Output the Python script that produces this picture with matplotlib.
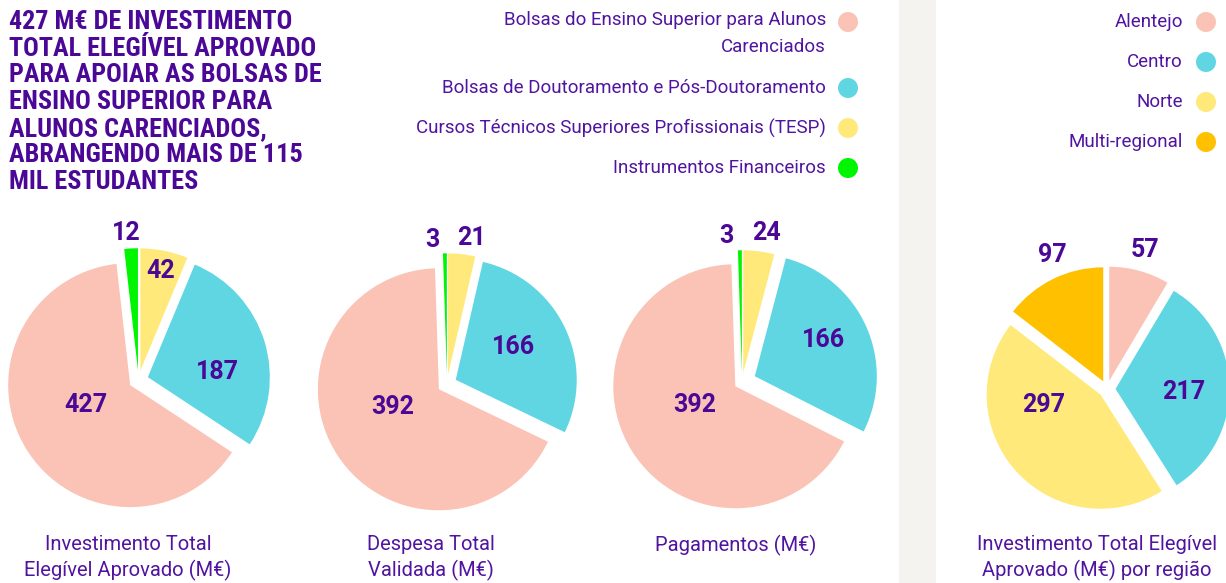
import numpy as np
import matplotlib.pyplot as plt
from matplotlib.patches import Circle

W, H = 1226, 583

# dados
categorias = ['Bolsas do Ensino Superior para Alunos\nCarenciados',
              'Bolsas de Doutoramento e Pós-Doutoramento',
              'Cursos Técnicos Superiores Profissionais (TESP)',
              'Instrumentos Financeiros']
investimento = [427, 187, 42, 12]
despesa = [392, 166, 21, 3]
pagamentos = [392, 166, 24, 3]

regioes = ['Alentejo', 'Centro', 'Norte', 'Multi-regional']
invest_regiao = [57, 217, 297, 97]

legendas = ['Investimento Total\nElegível Aprovado (M€)',
            'Despesa Total\nValidada (M€)',
            'Pagamentos (M€)',
            'Investimento Total Elegível\nAprovado (M€) por região']

titulo = ('427 M€ DE INVESTIMENTO\nTOTAL ELEGÍVEL APROVADO\nPARA APOIAR AS BOLSAS DE\n'
          'ENSINO SUPERIOR PARA\nALUNOS CARENCIADOS,\nABRANGENDO MAIS DE 115\nMIL ESTUDANTES')

cores_cat = ['#FAC3B6', '#60D6E3', '#FFE97A', '#00F500']
cores_reg = ['#FAC3B6', '#60D6E3', '#FFE97A', '#FFC000']
roxo = '#4B0896'
roxo2 = '#5014A0'

bold_font = ['Roboto Condensed', 'Roboto']
num_font = ['Roboto', 'DejaVu Sans']
txt_font = ['Roboto', 'DejaVu Sans']

# layout (pixels, y from top)
pies = [
    dict(vals=investimento, cores=cores_cat, order=[2, 1, 0, 3], c=(138.5, 380), R=122,
         expl=[0.08, 0.08, 0.08, 0.08], r=[0.48, 0.65, 0.91, 1.21], nudge=[6, 11, 0, -1.5],
         cap_x=128),
    dict(vals=despesa, cores=cores_cat, order=[2, 1, 0, 3], c=(447, 384), R=121,
         expl=[0.08, 0.08, 0.08, 0.08], r=[0.49, 0.63, 1.22, 1.2], nudge=[10, -3, 3, -5],
         cap_x=431),
    dict(vals=pagamentos, cores=cores_cat, order=[2, 1, 0, 3], c=(742, 382), R=122,
         expl=[0.065, 0.115, 0.08, 0.08], r=[0.43, 0.75, 1.24, 1.2], nudge=[6, -3, 2, -5],
         cap_x=736),
    dict(vals=invest_regiao, cores=cores_reg, order=[0, 1, 2, 3], c=(1107, 389), R=114,
         expl=[0.075, 0.075, 0.075, 0.075], r=[1.26, 0.67, 0.57, 1.27], nudge=[0, 3, 28, 4],
         cap_x=1097),
]

fig = plt.figure(figsize=(W / 100, H / 100), dpi=100)
ax = fig.add_axes([0, 0, 1, 1])
ax.axvspan(899, 936, color='#F4F3EF', zorder=0, lw=0)

for n, p in enumerate(pies):
    cx, cy = p['c'][0], H - p['c'][1]
    R = p['R']
    vals = [p['vals'][i] for i in p['order']]
    cols = [p['cores'][i] for i in p['order']]
    expl = [p['expl'][i] * R for i in p['order']]  # explode is in data units
    wedges, _ = ax.pie(vals, colors=cols, explode=expl, startangle=90, counterclock=False,
                       center=(cx, cy), radius=R, wedgeprops=dict(linewidth=0))
    for w, i in zip(wedges, p['order']):
        a = np.deg2rad((w.theta1 + w.theta2) / 2 - p['nudge'][i])
        rr = p['r'][i] * R
        ax.text(cx + rr * np.cos(a), cy + rr * np.sin(a), str(p['vals'][i]),
                ha='center', va='center', fontsize=18, fontweight='bold',
                color=roxo, family=num_font)
    for k, linha in enumerate(legendas[n].split('\n')):
        ax.text(p['cap_x'], H - 545 - 25 * k, linha, ha='center', va='center',
                fontsize=14.5, color=roxo2, family=txt_font)

# titulo
for k, linha in enumerate(titulo.split('\n')):
    ax.text(9, H - 22 - 26.7 * k, linha, ha='left', va='center', fontsize=18.8,
            fontweight='bold', color=roxo, family=bold_font)

# legenda das categorias
leg_y = [20, 88, 128, 168]
for nome, cor, y in zip(categorias, cores_cat, leg_y):
    ax.add_patch(Circle((848, H - y - 2 * (y == 20)), 10, color=cor, lw=0))
    for k, linha in enumerate(nome.split('\n')):
        ax.text(826, H - y - 27 * k, linha, ha='right', va='center',
                fontsize=13.5, color=roxo2, family=txt_font)

# legenda das regioes
reg_y = [22, 62, 102, 142]
for nome, cor, y in zip(regioes, cores_reg, reg_y):
    ax.add_patch(Circle((1206, H - y), 10, color=cor, lw=0))
    ax.text(1183, H - y, nome, ha='right', va='center', fontsize=13.5,
            color=roxo2, family=txt_font)

ax.set_xlim(0, W)
ax.set_ylim(0, H)
ax.set_aspect('auto')
ax.axis('off')
fig.savefig('out.png', dpi=100)
